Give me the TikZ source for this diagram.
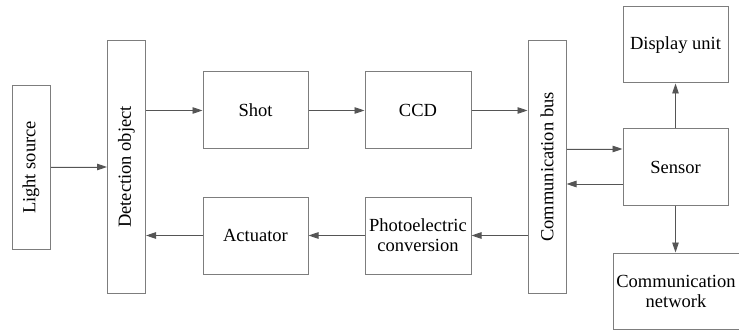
\documentclass[tikz,border=0pt]{standalone}
\usepackage{fontspec}
\setmainfont{Liberation Serif}
\newfontfamily\blkfont{Liberation Serif}
\usetikzlibrary{arrows.meta}
\definecolor{boxgray}{RGB}{125,125,125}
\definecolor{arrgray}{RGB}{85,85,85}
\tikzset{
  blk/.style={draw=boxgray, line width=1pt, align=center, inner sep=1pt,
    minimum width=105, minimum height=77},
  vblk/.style={draw=boxgray, line width=1pt, rotate=90, inner sep=1pt,
    minimum height=38},
  flow/.style={-{Triangle[length=10pt,width=6.5pt]}, draw=arrgray, fill=arrgray, line width=0.9pt}
}

\begin{document}
\begin{tikzpicture}[x=1pt, y=-1pt, font=\blkfont\fontsize{18.5}{20}\selectfont]
  \useasboundingbox (0,0) rectangle (739,334);
  % rotated blocks: north = left side, south = right side
  \node [vblk, minimum width=163] (LS) at (31, 167.5) {Light source};
  \node [vblk, minimum width=252] (DO) at (126.5, 167) {Detection object};
  \node [blk] (SH) at (255.5, 110.5) {Shot};
  \node [blk, minimum width=106] (CD) at (418, 110.5) {CCD};
  \node [blk] (AC) at (255.5, 235.5) {Actuator};
  \node [blk, minimum width=106] (PC) at (418, 235.5) {Photoelectric\\conversion};
  \node [vblk, minimum width=252] (CB) at (547, 167) {Communication bus};
  \node [blk, minimum height=76] (SE) at (675.5, 167) {Sensor};
  \node [blk, minimum height=76] (DU) at (675.5, 45) {Display unit};
  \node [blk, minimum width=126, minimum height=76] (CN) at (676, 291) {Communication\\network};
  \coordinate (SA) at ([yshift=18pt]SE.west);
  \coordinate (SB) at ([yshift=-17pt]SE.west);
  \draw [flow] (LS.south |- 0,167) -- (DO.north |- 0,167);
  \draw [flow] (DO.south |- SH.west) -- (SH.west);
  \draw [flow] (SH.east) -- (CD.west);
  \draw [flow] (CD.east) -- (CB.north |- CD.east);
  \draw [flow] (SA -| CB.south) -- (SA);
  \draw [flow] (SB) -- (SB -| CB.south);
  \draw [flow] (SE.north) -- (DU.south);
  \draw [flow] (SE.south) -- (SE.south |- CN.north);
  \draw [flow] (CB.north |- PC.east) -- (PC.east);
  \draw [flow] (PC.west) -- (AC.east);
  \draw [flow] (AC.west) -- (DO.south |- AC.west);
\end{tikzpicture}
\end{document}
